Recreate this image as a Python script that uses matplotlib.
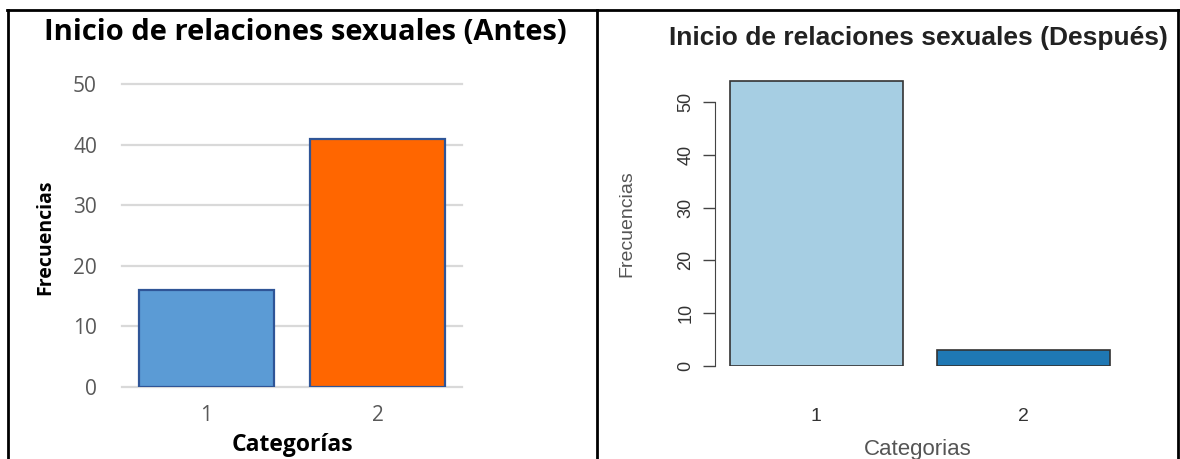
import matplotlib
matplotlib.use("Agg")
import matplotlib.pyplot as plt
from matplotlib.lines import Line2D

# data
categorias = ["1", "2"]
antes = [16, 41]
despues = [54, 3]
ticks_antes = [0, 10, 20, 30, 40, 50]
ticks_despues = [0, 10, 20, 30, 40, 50]

W, H = 1180, 459
fig = plt.figure(figsize=(W / 100, H / 100), dpi=100)


def ax_px(l, t, r, b):
    return fig.add_axes([l / W, 1 - b / H, (r - l) / W, (b - t) / H])


# table borders
for x in [8, 597, 1178]:
    fig.add_artist(Line2D([x / W, x / W], [0, 1 - 10 / H], color="black", lw=2))
fig.add_artist(Line2D([7 / W, 1179 / W], [1 - 10 / H, 1 - 10 / H], color="black", lw=2))

# ---- left: Excel style ----
ax1 = ax_px(122, 84, 462, 387)
pos = [0, 1]
ax1.bar(pos, antes, width=0.79, color=["#5B9BD5", "#FF6600"],
        edgecolor="#2F5597", linewidth=1.6, zorder=3)
ax1.set_xlim(-0.494, 1.494)
ax1.set_ylim(0, 50)
ax1.set_yticks(ticks_antes)
ax1.set_xticks(pos)
ax1.set_xticklabels(categorias)
for s in ax1.spines.values():
    s.set_visible(False)
for y in ticks_antes:
    ax1.axhline(y, color="#D9D9D9", lw=1.6, zorder=1, clip_on=False)
ax1.tick_params(length=0, labelsize=15, labelcolor="#595959", pad=18)
ax1.tick_params(axis="x", pad=13)
for lab in ax1.get_xticklabels() + ax1.get_yticklabels():
    lab.set_family("Open Sans")
fig.text(305 / W, 1 - 32 / H, "Inicio de relaciones sexuales (Antes)",
         ha="center", va="center", fontsize=21, fontweight="bold", family="Open Sans")
fig.text(45 / W, 1 - 237 / H, "Frecuencias", rotation=90, ha="center", va="center",
         fontsize=14, fontweight="bold", family="Open Sans")
fig.text(292 / W, 1 - 457 / H, "Categorías", ha="center", va="bottom",
         fontsize=16.5, fontweight="bold", family="Open Sans")

# ---- right: R barplot style ----
ax2 = ax_px(715, 60, 1140, 366)
ax2.bar(pos, despues, width=0.833, color=["#A6CEE3", "#1F78B4"],
        edgecolor="#333333", linewidth=1.2)
ax2.set_xlim(-0.49, 1.563)
ax2.set_ylim(0, 57.95)
for k in ["top", "right", "bottom"]:
    ax2.spines[k].set_visible(False)
ax2.spines["left"].set_bounds(0, 50)
ax2.spines["left"].set_color("#444444")
ax2.set_yticks(ticks_despues)
ax2.set_xticks(pos)
ax2.set_xticklabels(categorias)
ax2.tick_params(axis="y", length=9, width=1, color="#444444", labelsize=13,
                labelcolor="#333333", labelrotation=90, pad=6)
ax2.tick_params(axis="x", length=0, labelsize=14, labelcolor="#333333", pad=30)
for lab in ax2.get_yticklabels():
    lab.set_va("center")
for lab in ax2.get_xticklabels() + ax2.get_yticklabels():
    lab.set_family("Liberation Sans")
fig.text(918 / W, 1 - 38 / H, "Inicio de relaciones sexuales (Después)",
         ha="center", va="center", fontsize=19, fontweight="bold",
         family="Liberation Sans", color="#222222")
fig.text(627 / W, 1 - 224 / H, "Frecuencias", rotation=90, ha="center", va="center",
         fontsize=14, family="Liberation Sans", color="#555555")
fig.text(918 / W, 1 - 449 / H, "Categorias", ha="center", va="center",
         fontsize=16, family="Liberation Sans", color="#555555")

fig.savefig("out.png", dpi=100)
